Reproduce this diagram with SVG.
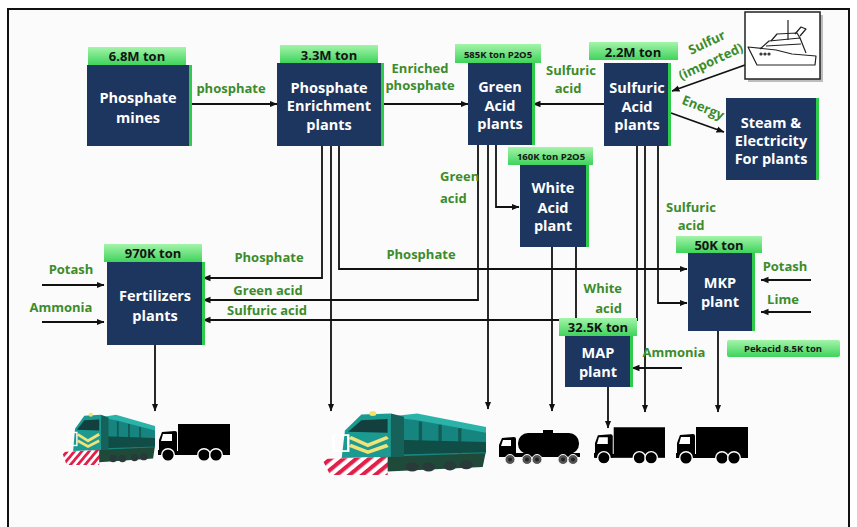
<svg xmlns="http://www.w3.org/2000/svg" width="857" height="527" viewBox="0 0 857 527">
  <defs>
    <linearGradient id="tagGrad" x1="0" y1="0" x2="0" y2="1">
      <stop offset="0" stop-color="#a4f4aa"/>
      <stop offset="1" stop-color="#3fd35b"/>
    </linearGradient>
    <pattern id="plowStripes" patternUnits="userSpaceOnUse" width="6" height="6" patternTransform="rotate(40)">
      <rect width="6" height="6" fill="#ffffff"/>
      <rect width="3" height="6" fill="#e0204a"/>
    </pattern>
    <marker id="ah" markerWidth="8" markerHeight="8" refX="7.5" refY="4" orient="auto" markerUnits="userSpaceOnUse">
      <path d="M0,0.8 L8,4 L0,7.2 Z" fill="#111"/>
    </marker>
    <!-- locomotive -->
    <symbol id="loco" viewBox="0 0 100 57" preserveAspectRatio="none">
      <polygon points="30,36 100,36 98,50 40,54" fill="#1f4a3a"/>
      <polygon points="38,8 58,6 100,18 100,38 38,41" fill="#17857f"/>
      <polygon points="40,6 58,3 100,15 100,20 58,9" fill="#2bb3aa"/>
      <path d="M60,10 V38 M72,13 V38 M84,16 V38" stroke="#125c55" stroke-width="2"/>
      <polygon points="45,26 100,28 100,37 45,39" fill="#0f4d46"/>
      <polygon points="14,18 24,4 42,3 42,41 12,42" fill="#1b9a92"/>
      <polygon points="42,3 50,6 50,41 42,41" fill="#16615a"/>
      <polygon points="16,19 24,9 40,8 40,20" fill="#13403f"/>
      <polyline points="17,24 28,31 40,24" fill="none" stroke="#f1e27a" stroke-width="3"/>
      <polyline points="17,31 28,37 40,31" fill="none" stroke="#f1e27a" stroke-width="3"/>
      <rect x="7" y="22" width="9" height="14" fill="none" stroke="#ffffff" stroke-width="1.5"/>
      <circle cx="31" cy="3" r="2.2" fill="#f4e36a"/>
      <polygon points="0,43 40,41 40,57 5,57" fill="url(#plowStripes)"/>
      <circle cx="55" cy="50" r="4" fill="#2a3a3a"/>
      <circle cx="65" cy="50" r="4" fill="#2a3a3a"/>
      <circle cx="78" cy="49" r="4" fill="#2a3a3a"/>
      <circle cx="88" cy="48" r="4" fill="#2a3a3a"/>
    </symbol>
    <!-- box truck -->
    <symbol id="truck" viewBox="0 0 72 38">
      <rect x="20" y="0" width="52" height="29" fill="#000"/>
      <rect x="17" y="27" width="55" height="4" fill="#000"/>
      <path d="M1,31 L1,16 L4,8 L17,7 Q19,7 19,9 L19,31 Z" fill="#000"/>
      <path d="M5,10 L14,10 L14,17 L3,17 Z" fill="#fff"/>
      <rect x="0" y="26" width="6" height="5" fill="#000"/>
      <circle cx="10" cy="31" r="6.3" fill="#000" stroke="#fff" stroke-width="1.4"/>
      <circle cx="46" cy="31" r="6.3" fill="#000" stroke="#fff" stroke-width="1.4"/>
      <circle cx="58" cy="31" r="6.3" fill="#000" stroke="#fff" stroke-width="1.4"/>
    </symbol>
    <!-- tanker truck -->
    <symbol id="tanker" viewBox="0 0 81 36">
      <rect x="19" y="3" width="61" height="21" rx="10" fill="#000"/>
      <rect x="44" y="0" width="10" height="5" fill="#000"/>
      <rect x="0" y="23" width="81" height="4" fill="#000"/>
      <path d="M0,26 L0,15 L3,8 L15,7 Q17,7 17,9 L17,27 Z" fill="#000"/>
      <path d="M4,10 L12,10 L12,16 L2,16 Z" fill="#fff"/>
      <g fill="#555" stroke="#fff" stroke-width="1">
        <circle cx="11" cy="29.5" r="5"/>
        <circle cx="28" cy="29.5" r="5"/>
        <circle cx="38" cy="29.5" r="5"/>
        <circle cx="64" cy="29.5" r="5"/>
        <circle cx="74" cy="29.5" r="5"/>
      </g>
      <g fill="#222">
        <circle cx="11" cy="29.5" r="2"/>
        <circle cx="28" cy="29.5" r="2"/>
        <circle cx="38" cy="29.5" r="2"/>
        <circle cx="64" cy="29.5" r="2"/>
        <circle cx="74" cy="29.5" r="2"/>
      </g>
    </symbol>
  </defs>
  <style>
    .box { fill: #1c365f; }
    .rim { fill: #2fcb4a; }
    .tag { fill: url(#tagGrad); }
    .bt { font-family: "Open Sans", "Noto Sans", sans-serif; font-weight: bold; font-size: 14.5px; fill: #ffffff; text-anchor: middle; }
    .tt { font-family: "Open Sans", "Noto Sans", sans-serif; font-weight: bold; font-size: 13px; fill: #141414; text-anchor: middle; }
    .ts { font-family: "Open Sans", "Noto Sans", sans-serif; font-weight: bold; font-size: 9.5px; fill: #141414; text-anchor: middle; }
    .lb { font-family: "Open Sans", "Noto Sans", sans-serif; font-weight: bold; font-size: 13px; fill: #3b8c2c; text-anchor: middle; }
    .ln { stroke: #111; stroke-width: 1.8; fill: none; }
    .ar { marker-end: url(#ah); }
  </style>

  <rect x="0" y="0" width="857" height="527" fill="#ffffff"/>
  <rect x="8" y="9" width="841" height="530" fill="#fbfbfb" stroke="#111" stroke-width="2"/>

  <!-- flows between plants -->
  <g id="connectors">
    <path class="ln ar" d="M190,104 H277"/>
    <path class="ln ar" d="M383,104 H468"/>
    <path class="ln ar" d="M604,104 H533"/>
    <path class="ln ar" d="M745,65 L672,91"/>
    <path class="ln ar" d="M671,113 L724,132"/>
    <path class="ln ar" d="M322,146 V278 H203"/>
    <path class="ln ar" d="M331,146 V411"/>
    <path class="ln ar" d="M339,146 V269 H687"/>
    <path class="ln ar" d="M478,145 V300 H203"/>
    <path class="ln ar" d="M488,145 V409"/>
    <path class="ln ar" d="M496,145 V207 H519"/>
    <path class="ln ar" d="M637,146 V320 H203"/>
    <path class="ln ar" d="M645,146 V412"/>
    <path class="ln ar" d="M658,146 V303 H687"/>
    <path class="ln ar" d="M552,247 V411"/>
    <path class="ln" d="M576,247 V320"/>
    <path class="ln ar" d="M608,387 V428"/>
    <path class="ln ar" d="M682,368 H632"/>
    <path class="ln ar" d="M718,331 V412"/>
    <path class="ln ar" d="M811,280 H761"/>
    <path class="ln ar" d="M811,312 H761"/>
    <path class="ln ar" d="M42,285 H104"/>
    <path class="ln ar" d="M42,322 H104"/>
    <path class="ln ar" d="M155,345 V411"/>
  </g>

  <!-- flow labels -->
  <g id="flow-labels">
    <text class="lb" x="231" y="93">phosphate</text>
    <text class="lb" x="420" y="73">Enriched</text>
    <text class="lb" x="420" y="90">phosphate</text>
    <text class="lb" x="571" y="75">Sulfuric</text>
    <text class="lb" x="568" y="93">acid</text>
    <text class="lb" x="707" y="47" transform="rotate(-25 707 43)">Sulfur</text>
    <text class="lb" x="711" y="66" transform="rotate(-25 711 62)">(imported)</text>
    <text class="lb" x="703" y="112" transform="rotate(22 703 108)">Energy</text>
    <text class="lb" x="440" y="181" style="text-anchor:start">Green</text>
    <text class="lb" x="440" y="203" style="text-anchor:start">acid</text>
    <text class="lb" x="421" y="259">Phosphate</text>
    <text class="lb" x="269" y="262">Phosphate</text>
    <text class="lb" x="268" y="295">Green acid</text>
    <text class="lb" x="267" y="315">Sulfuric acid</text>
    <text class="lb" x="71" y="274">Potash</text>
    <text class="lb" x="61" y="312">Ammonia</text>
    <text class="lb" x="622" y="293" style="text-anchor:end">White</text>
    <text class="lb" x="622" y="313" style="text-anchor:end">acid</text>
    <text class="lb" x="691" y="212">Sulfuric</text>
    <text class="lb" x="691" y="230">acid</text>
    <text class="lb" x="674" y="357">Ammonia</text>
    <text class="lb" x="785" y="271">Potash</text>
    <text class="lb" x="783" y="304">Lime</text>
  </g>

  <g id="n-mines">
    <rect class="rim" x="89" y="65" width="103" height="81"/>
    <rect class="box" x="87" y="65" width="102" height="81"/>
    <rect class="tag" x="88" y="47" width="98" height="18"/>
    <text class="tt" x="137" y="61">6.8M ton</text>
    <text class="bt" x="138" y="103">Phosphate</text>
    <text class="bt" x="138" y="123">mines</text>
  </g>

  <g id="n-enrichment">
    <rect class="rim" x="279" y="63" width="105" height="83"/>
    <rect class="box" x="277" y="63" width="104" height="83"/>
    <rect class="tag" x="280" y="45" width="98" height="18"/>
    <text class="tt" x="329" y="60">3.3M ton</text>
    <text class="bt" x="329" y="93">Phosphate</text>
    <text class="bt" x="329" y="111">Enrichment</text>
    <text class="bt" x="329" y="130">plants</text>
  </g>

  <g id="n-green-acid">
    <rect class="rim" x="470" y="63" width="65" height="82"/>
    <rect class="box" x="468" y="63" width="64" height="82"/>
    <rect class="tag" x="455" y="44" width="86" height="19"/>
    <text class="ts" x="498" y="58">585K ton P2O5</text>
    <text class="bt" x="500" y="92">Green</text>
    <text class="bt" x="500" y="111">Acid</text>
    <text class="bt" x="500" y="129">plants</text>
  </g>

  <g id="n-sulfuric-acid">
    <rect class="rim" x="606" y="63" width="65" height="83"/>
    <rect class="box" x="604" y="63" width="64" height="83"/>
    <rect class="tag" x="589" y="42" width="89" height="18"/>
    <text class="tt" x="633" y="57">2.2M ton</text>
    <text class="bt" x="637" y="93">Sulfuric</text>
    <text class="bt" x="637" y="112">Acid</text>
    <text class="bt" x="637" y="130">plants</text>
  </g>

  <g id="n-ship">
    <rect x="748" y="15" width="75" height="67" fill="#bdbdbd"/>
    <rect x="745" y="12" width="75" height="67" fill="#ffffff" stroke="#222" stroke-width="1.5"/>
    <g fill="none" stroke="#222" stroke-width="1.2" stroke-linejoin="round">
      <path d="M748,47 L757,65 L815,65 L816,56 L792,54 L776,50 Z" fill="#fff"/>
      <path d="M760,49 L769,41 L800,38 L806,53"/>
      <path d="M771,41 L777,34 L797,33 L800,38"/>
      <path d="M766,46 L801,44"/>
      <path d="M788,20 V40"/>
      <path d="M795,34 L801,27 L806,29 L800,36"/>
      <circle cx="761" cy="54" r="1"/>
      <circle cx="765" cy="54" r="1"/>
      <circle cx="769" cy="54" r="1"/>
    </g>
  </g>

  <g id="n-steam">
    <rect class="rim" x="728" y="98" width="91" height="82"/>
    <rect class="box" x="726" y="98" width="90" height="82"/>
    <text class="bt" x="771" y="128">Steam &amp;</text>
    <text class="bt" x="771" y="146">Electricity</text>
    <text class="bt" x="771" y="164">For plants</text>
  </g>

  <g id="n-white-acid">
    <rect class="rim" x="522" y="165" width="67" height="82"/>
    <rect class="box" x="520" y="165" width="66" height="82"/>
    <rect class="tag" x="508" y="147" width="85" height="18"/>
    <text class="ts" x="551" y="160">160K ton P2O5</text>
    <text class="bt" x="553" y="193">White</text>
    <text class="bt" x="553" y="213">Acid</text>
    <text class="bt" x="553" y="231">plant</text>
  </g>

  <g id="n-fertilizers">
    <rect class="rim" x="109" y="262" width="96" height="83"/>
    <rect class="box" x="107" y="262" width="95" height="83"/>
    <rect class="tag" x="104" y="244" width="98" height="18"/>
    <text class="tt" x="153" y="258">970K ton</text>
    <text class="bt" x="155" y="301">Fertilizers</text>
    <text class="bt" x="155" y="321">plants</text>
  </g>

  <g id="n-mkp">
    <rect class="rim" x="690" y="253" width="65" height="78"/>
    <rect class="box" x="688" y="253" width="64" height="78"/>
    <rect class="tag" x="676" y="236" width="86" height="17"/>
    <text class="tt" x="719" y="250">50K ton</text>
    <text class="bt" x="720" y="288">MKP</text>
    <text class="bt" x="720" y="307">plant</text>
  </g>

  <g id="n-pekacid">
    <rect class="tag" x="727" y="340" width="113" height="17" rx="2"/>
    <text class="ts" x="783" y="352">Pekacid 8.5K ton</text>
  </g>

  <g id="n-map">
    <rect class="rim" x="567" y="335" width="66" height="52"/>
    <rect class="box" x="565" y="335" width="65" height="52"/>
    <rect class="tag" x="559" y="318" width="78" height="18"/>
    <text class="tt" x="598" y="332">32.5K ton</text>
    <text class="bt" x="598" y="358">MAP</text>
    <text class="bt" x="598" y="377">plant</text>
  </g>

  <!-- transport at the end of each line -->
  <g id="transport">
    <use href="#loco" x="62" y="412" width="93" height="53"/>
    <use href="#truck" x="158" y="424" width="72" height="38"/>
    <use href="#loco" x="322" y="410" width="164" height="65"/>
    <use href="#tanker" x="499" y="430" width="81" height="36"/>
    <use href="#truck" x="594" y="427" width="71" height="38"/>
    <use href="#truck" x="676" y="427" width="72" height="38"/>
  </g>
</svg>
